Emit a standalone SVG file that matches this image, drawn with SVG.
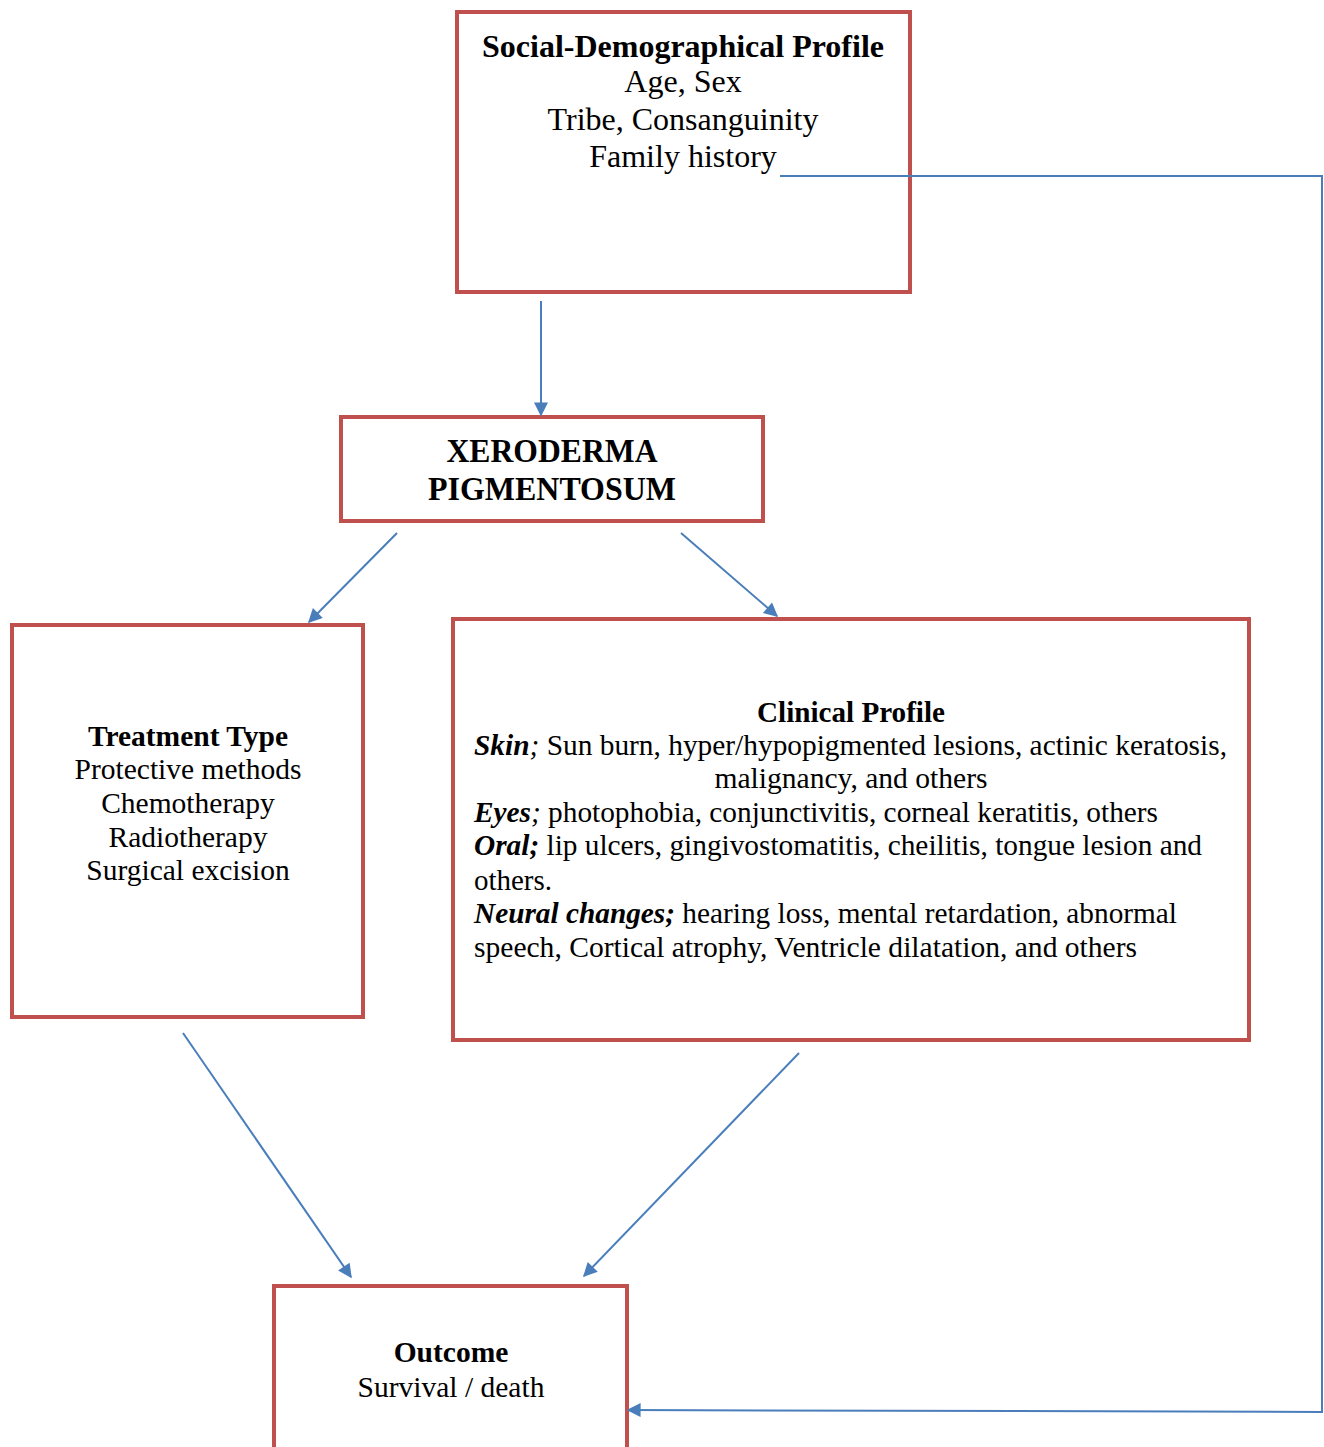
<svg xmlns="http://www.w3.org/2000/svg" width="1324" height="1447" viewBox="0 0 1324 1447">
<defs>
<style>
.box{fill:#fff;stroke:#C0504D;stroke-width:4}
.t{font-family:"Liberation Serif","Times New Roman",serif;fill:#000}
.s29{font-size:29.5px}
.s32{font-size:32px}
.s34{font-size:34px}
.c{text-anchor:middle}
.b{font-weight:bold}
.bi{font-weight:bold;font-style:italic}
.conn{fill:none;stroke:#4A7EBB;stroke-width:2}
</style>
<marker id="ah2" viewBox="0 0 10 10" refX="9" refY="5" markerWidth="16" markerHeight="14" markerUnits="userSpaceOnUse" orient="auto">
<path d="M0,0 L10,5 L0,10 z" fill="#4A7EBB"/>
</marker>
</defs>
<rect width="1324" height="1447" fill="#fff"/>
<g id="social">
<rect class="box" x="457" y="12" width="453" height="280"/>
<text class="t s32 c b" x="683" y="57">Social-Demographical Profile</text>
<text class="t s32 c" x="683" y="92">Age, Sex</text>
<text class="t s32 c" x="683" y="130">Tribe, Consanguinity</text>
<text class="t s32 c" x="683" y="167">Family history</text>
</g>
<g id="xp">
<rect class="box" x="341" y="417" width="422" height="104"/>
<text class="t s34 c b" x="552" y="462" textLength="211" lengthAdjust="spacingAndGlyphs">XERODERMA</text>
<text class="t s34 c b" x="552" y="500" textLength="248" lengthAdjust="spacingAndGlyphs">PIGMENTOSUM</text>
</g>
<g id="treatment">
<rect class="box" x="12" y="625" width="351" height="392"/>
<text class="t s29 c b" x="188" y="746">Treatment Type</text>
<text class="t s29 c" x="188" y="779">Protective methods</text>
<text class="t s29 c" x="188" y="813">Chemotherapy</text>
<text class="t s29 c" x="188" y="847">Radiotherapy</text>
<text class="t s29 c" x="188" y="880">Surgical excision</text>
</g>
<g id="clinical">
<rect class="box" x="453" y="619" width="796" height="421"/>
<text class="t s29 c b" x="851" y="722" textLength="188" lengthAdjust="spacingAndGlyphs">Clinical Profile</text>
<text class="t s29" x="474" y="755" textLength="753" lengthAdjust="spacingAndGlyphs"><tspan class="bi">Skin</tspan><tspan font-style="italic">;</tspan> Sun burn, hyper/hypopigmented lesions, actinic keratosis,</text>
<text class="t s29 c" x="851" y="788" textLength="273" lengthAdjust="spacingAndGlyphs">malignancy, and others</text>
<text class="t s29" x="474" y="822" textLength="684" lengthAdjust="spacingAndGlyphs"><tspan class="bi">Eyes</tspan><tspan font-style="italic">;</tspan> photophobia, conjunctivitis, corneal keratitis, others</text>
<text class="t s29" x="474" y="855" textLength="728" lengthAdjust="spacingAndGlyphs"><tspan class="bi">Oral;</tspan> lip ulcers, gingivostomatitis, cheilitis, tongue lesion and</text>
<text class="t s29" x="474" y="890" textLength="78" lengthAdjust="spacingAndGlyphs">others.</text>
<text class="t s29" x="474" y="923" textLength="703" lengthAdjust="spacingAndGlyphs"><tspan class="bi">Neural changes;</tspan> hearing loss, mental retardation, abnormal</text>
<text class="t s29" x="474" y="957" textLength="663" lengthAdjust="spacingAndGlyphs">speech, Cortical atrophy, Ventricle dilatation, and others</text>
</g>
<g id="outcome">
<rect class="box" x="274" y="1286" width="353" height="180"/>
<text class="t s29 c b" x="451" y="1362">Outcome</text>
<text class="t s29 c" x="451" y="1397">Survival / death</text>
</g>
<g id="connectors">
<line class="conn" x1="541" y1="301" x2="541" y2="415" marker-end="url(#ah2)"/>
<line class="conn" x1="397" y1="533" x2="309" y2="622" marker-end="url(#ah2)"/>
<line class="conn" x1="681" y1="533" x2="777" y2="616" marker-end="url(#ah2)"/>
<line class="conn" x1="183" y1="1033" x2="351" y2="1277" marker-end="url(#ah2)"/>
<line class="conn" x1="799" y1="1053" x2="584" y2="1276" marker-end="url(#ah2)"/>
<polyline class="conn" points="780,176 1322,176 1322,1412 628,1410" marker-end="url(#ah2)"/>
</g>
</svg>
